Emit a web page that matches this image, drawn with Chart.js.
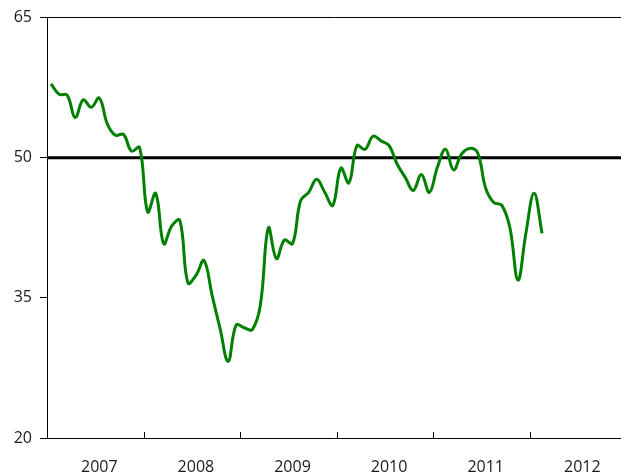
<!DOCTYPE html>
<html>
<head>
<meta charset="utf-8">
<script src="https://cdn.jsdelivr.net/npm/chart.js@4/dist/chart.umd.min.js"></script>
<style>
  html, body { margin: 0; padding: 0; background: #ffffff; overflow: hidden; }
  #wrap { width: 621px; height: 474px; position: relative; }
</style>
</head>
<body>
<div id="wrap"><canvas id="c" width="621" height="474"></canvas></div>
<script>
// Years shown on the x axis (one label per year, centred on the year)
const yearLabels = ['2007', '2008', '2009', '2010', '2011', '2012'];
// y axis tick labels
const yTicks = [20, 35, 50, 65];
// Monthly index values, Jan 2007 .. Feb 2012
const indexValues = [
  57.9, 56.8, 56.7, 54.3, 56.2, 55.4, 56.4, 53.6, 52.4, 52.5, 50.7, 51.1,
  44.2, 46.2, 40.8, 42.7, 43.3, 36.6, 37.4, 39.0, 35.3, 31.7, 28.2, 32.1,
  31.8, 31.6, 34.2, 42.5, 39.2, 41.2, 40.8, 45.4, 46.3, 47.7, 46.3, 44.9,
  48.9, 47.3, 51.3, 50.9, 52.3, 51.8, 51.3, 49.3, 47.9, 46.5, 48.2, 46.3,
  49.0, 50.9, 48.7, 50.4, 51.0, 50.5, 46.7, 45.2, 44.9, 42.5, 36.9, 42.0,
  46.2, 41.9
];
// Reference level
const thresholdValue = 50;

const monthsPerYear = 12;
const linePoints = indexValues.map((v, i) => ({ x: i + 0.5, y: v }));
const thresholdPoints = [{ x: 0, y: thresholdValue }, { x: yearLabels.length * monthsPerYear, y: thresholdValue }];

const yearTickPlugin = {
  id: 'yearTicks',
  afterDraw(chart) {
    const xs = chart.scales.x;
    const ctx = chart.ctx;
    const bottom = chart.chartArea.bottom;
    ctx.save();
    ctx.strokeStyle = '#000';
    ctx.lineWidth = 1;
    for (let k = 1; k < yearLabels.length; k++) {
      const px = Math.round(xs.getPixelForValue(k * monthsPerYear)) + 0.5;
      ctx.beginPath();
      ctx.moveTo(px, bottom);
      ctx.lineTo(px, bottom - 6);
      ctx.stroke();
    }
    ctx.restore();
  }
};

const fontFamily = '"Open Sans", "DejaVu Sans", sans-serif';

new Chart(document.getElementById('c'), {
  type: 'line',
  data: {
    datasets: [
      {
        data: thresholdPoints,
        borderColor: '#000000',
        borderWidth: 3,
        pointRadius: 0,
        tension: 0,
        order: 2
      },
      {
        data: linePoints,
        borderColor: '#008000',
        borderWidth: 3,
        pointRadius: 0,
        tension: 0.4,
        order: 1
      }
    ]
  },
  plugins: [yearTickPlugin],
  options: {
    responsive: false,
    animation: false,
    layout: { padding: { top: 16, right: 0, left: 0, bottom: 0 } },
    plugins: { legend: { display: false }, tooltip: { enabled: false } },
    scales: {
      x: {
        type: 'linear',
        position: 'bottom',
        min: 0,
        max: 71.3,
        afterBuildTicks: (scale) => {
          scale.ticks = yearLabels.map((_, i) => ({ value: i * monthsPerYear + monthsPerYear / 2 }));
        },
        afterFit: (scale) => { scale.height = 36; },
        ticks: {
          autoSkip: false,
          maxRotation: 0,
          padding: 20,
          labelOffset: 4,
          color: '#1a1a1a',
          font: { family: fontFamily, size: 16 },
          callback: (value) => yearLabels[Math.round((value - monthsPerYear / 2) / monthsPerYear)]
        },
        grid: { display: true, drawOnChartArea: false, drawTicks: false, color: 'rgba(0,0,0,0)' },
        border: { display: true, color: '#000', width: 1 }
      },
      x2: {
        type: 'linear',
        position: 'top',
        min: 0,
        max: 71.3,
        afterFit: (scale) => { scale.height = 0; },
        ticks: { display: false },
        grid: { display: false, drawTicks: false },
        border: { display: true, color: '#000', width: 1 }
      },
      y: {
        type: 'linear',
        min: 20,
        max: 65,
        afterBuildTicks: (scale) => {
          scale.ticks = yTicks.map(v => ({ value: v }));
        },
        afterFit: (scale) => { scale.width = 47; },
        ticks: {
          padding: 8,
          color: '#1a1a1a',
          font: { family: fontFamily, size: 16 }
        },
        grid: { display: true, drawOnChartArea: false, drawTicks: true, tickLength: 7, color: '#000' },
        border: { display: true, color: '#000', width: 1 }
      }
    }
  }
});
</script>
</body>
</html>
